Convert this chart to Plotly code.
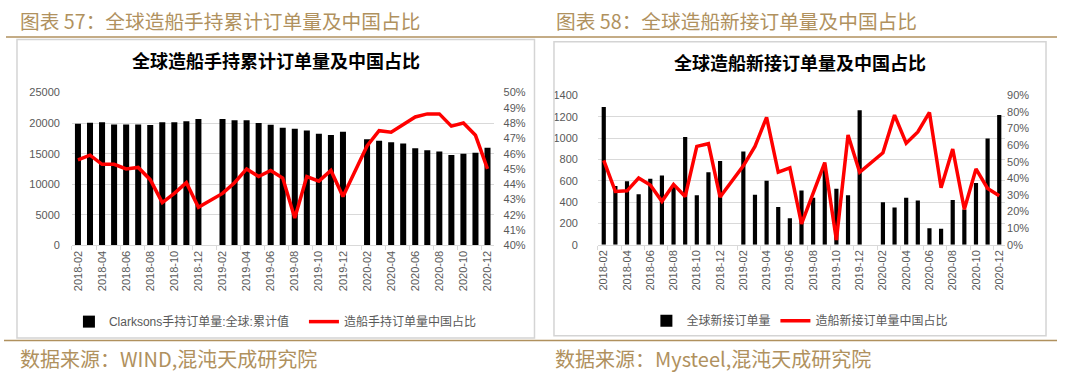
import plotly.graph_objects as go

W, H = 1065, 377

months = [
    "2018-02", "2018-03", "2018-04", "2018-05", "2018-06", "2018-07", "2018-08", "2018-09",
    "2018-10", "2018-11", "2018-12", "2019-01", "2019-02", "2019-03", "2019-04", "2019-05",
    "2019-06", "2019-07", "2019-08", "2019-09", "2019-10", "2019-11", "2019-12", "2020-01",
    "2020-02", "2020-03", "2020-04", "2020-05", "2020-06", "2020-07", "2020-08", "2020-09",
    "2020-10", "2020-11", "2020-12",
]

# Chart 57: global orderbook (cumulative) and China share
orderbook_global = [
    19900, 20030, 20140, 19780, 19780, 19780, 19700, 20140, 20140, 20300, 20670,
    None,
    20670, 20460, 20460, 20000, 19720, 19240, 19080, 18770, 18240, 18030, 18560,
    None,
    17350, 17090, 16870, 16660, 15870, 15550, 15350, 14760, 14970, 15130, 15980,
]
orderbook_china_share = [
    45.6, 45.9, 45.3, 45.3, 45.0, 45.1, 44.3, 42.8, 43.4, 44.1, 42.5,
    None,
    43.4, 44.1, 45.0, 44.5, 44.9, 44.4, 41.8, 44.5, 44.2, 44.9, 43.2,
    None,
    46.5, 47.5, 47.4, 47.9, 48.4, 48.6, 48.6, 47.8, 48.0, 47.2, 45.0,
]

# Chart 58: global new orders and China share
new_orders_global = [
    1290, 550, 595, 475, 620, 650, 550, 1010, 465, 680, 785,
    None,
    875, 470, 600, 355, 250, 510, 440, 700, 525, 465, 1260,
    None,
    400, 350, 440, 415, 155, 150, 420, 330, 580, 995, 1215,
]
new_orders_china_share = [
    50.9, 32.1, 32.5, 40.2, 36.0, 26.2, 36.4, 29.1, 59.3, 60.9, 28.8,
    None,
    47.6, 59.3, 76.8, 43.7, 46.3, 12.6, 31.1, 49.5, 2.9, 66.1, 43.7,
    None,
    55.4, 78.1, 61.2, 68.0, 79.7, 34.4, 57.7, 21.4, 45.7, 34.0, 29.6,
]

def pct(vals):
    return [None if v is None else v / 100.0 for v in vals]

GRAY = "#595959"
GRID = "#d9d9d9"
BROWN = "#b0915e"
TICKFONT = dict(family="Liberation Sans, Noto Sans CJK SC", size=11, color=GRAY)
CJK = "Noto Sans CJK SC"

def px_x(x):
    return x / W

def px_y(y):
    return 1 - y / H

fig = go.Figure()

fig.add_trace(go.Bar(
    x=months, y=orderbook_global, name="Clarksons手持订单量:全球:累计值",
    marker=dict(color="#000000", line=dict(width=0)), width=0.5,
    xaxis="x", yaxis="y", legend="legend",
))
fig.add_trace(go.Scatter(
    x=months, y=pct(orderbook_china_share), name="造船手持订单量中国占比",
    mode="lines", line=dict(color="#ff0000", width=3.5), connectgaps=True,
    xaxis="x", yaxis="y2", legend="legend",
))
fig.add_trace(go.Bar(
    x=months, y=new_orders_global, name="全球新接订单量",
    marker=dict(color="#000000", line=dict(width=0)), width=0.36,
    xaxis="x2", yaxis="y3", legend="legend2",
))
fig.add_trace(go.Scatter(
    x=months, y=pct(new_orders_china_share), name="造船新接订单量中国占比",
    mode="lines", line=dict(color="#ff0000", width=3.5), connectgaps=True,
    xaxis="x2", yaxis="y4", legend="legend2",
))

xcommon = dict(
    type="category", categoryorder="array", categoryarray=months,
    range=[-0.5, len(months) - 0.5], tickmode="linear", tick0=0, dtick=2,
    tickangle=-90, tickson="boundaries", ticks="outside", ticklen=4,
    tickcolor=GRID, showline=True, linecolor=GRID, linewidth=1,
    showgrid=False, zeroline=False, tickfont=TICKFONT, fixedrange=True,
)
ycommon = dict(showline=False, zeroline=False, ticks="", tickfont=TICKFONT, fixedrange=True)

LEGFONT = dict(family="Liberation Sans, Noto Sans CJK SC", size=12, color=GRAY)

fig.update_layout(
    width=W, height=H, margin=dict(l=0, r=0, t=0, b=0),
    paper_bgcolor="white", plot_bgcolor="rgba(0,0,0,0)",
    showlegend=True, bargap=0.5,
    xaxis=dict(domain=[px_x(71), px_x(493)], anchor="y", **xcommon),
    yaxis=dict(domain=[px_y(247.3), px_y(89.3)], anchor="x", range=[0, 25000], dtick=5000,
               tickformat="d", showgrid=True, gridcolor=GRID, ticklabelstandoff=11, **ycommon),
    yaxis2=dict(overlaying="y", anchor="x", side="right", range=[0.40, 0.50], dtick=0.01,
                tickformat=".0%", showgrid=False, ticklabelstandoff=9, **ycommon),
    xaxis2=dict(domain=[px_x(597.5), px_x(1005)], anchor="y3", **xcommon),
    yaxis3=dict(domain=[px_y(246.7), px_y(92.3)], anchor="x2", range=[0, 1400], dtick=200,
                tickformat="d", showgrid=True, gridcolor=GRID, ticklabelstandoff=19, **ycommon),
    yaxis4=dict(overlaying="y3", anchor="x2", side="right", range=[0, 0.9], dtick=0.1,
                tickformat=".0%", showgrid=False, ticklabelstandoff=1, **ycommon),
    legend=dict(orientation="h", x=px_x(68), y=px_y(326), xanchor="left", yanchor="middle",
                font=LEGFONT, entrywidth=190, entrywidthmode="pixels",
                bgcolor="rgba(0,0,0,0)", itemwidth=30),
    legend2=dict(orientation="h", x=px_x(646), y=px_y(325), xanchor="left", yanchor="middle",
                 font=LEGFONT, bgcolor="rgba(0,0,0,0)", itemwidth=30),
)

shapes = [
    # brown separators
    dict(type="line", xref="paper", yref="paper", x0=px_x(5), x1=px_x(1057), y0=px_y(32), y1=px_y(32),
         line=dict(color=BROWN, width=1.5)),
    dict(type="line", xref="paper", yref="paper", x0=px_x(3), x1=px_x(1057), y0=px_y(345.5), y1=px_y(345.5),
         line=dict(color=BROWN, width=1.5)),
    # chart frames
    dict(type="rect", xref="paper", yref="paper", x0=px_x(16), x1=px_x(534), y0=px_y(343), y1=px_y(34.5),
         line=dict(color="#d4d4d4", width=1.5)),
    dict(type="rect", xref="paper", yref="paper", x0=px_x(553.5), x1=px_x(1046), y0=px_y(340.5), y1=px_y(36.8),
         line=dict(color="#d4d4d4", width=1.5)),
]
fig.update_layout(shapes=shapes)

annotations = [
    dict(text="图表 57：全球造船手持累计订单量及中国占比", x=px_x(17), y=px_y(15), xanchor="left", yanchor="middle",
         font=dict(family=CJK, size=19.7, color=BROWN)),
    dict(text="图表 58：全球造船新接订单量及中国占比", x=px_x(554), y=px_y(15), xanchor="left", yanchor="middle",
         font=dict(family=CJK, size=19.7, color=BROWN)),
    dict(text="<b>全球造船手持累计订单量及中国占比</b>", x=px_x(275), y=px_y(56), xanchor="center", yanchor="middle",
         font=dict(family=CJK, size=18, color="#000000")),
    dict(text="<b>全球造船新接订单量及中国占比</b>", x=px_x(800), y=px_y(58), xanchor="center", yanchor="middle",
         font=dict(family=CJK, size=18, color="#000000")),
    dict(text="数据来源：WIND,混沌天成研究院", x=px_x(17), y=px_y(364), xanchor="left", yanchor="middle",
         font=dict(family=CJK, size=20, color=BROWN)),
    dict(text="数据来源：Mysteel,混沌天成研究院", x=px_x(553), y=px_y(364), xanchor="left", yanchor="middle",
         font=dict(family=CJK, size=20, color=BROWN)),
]
for a in annotations:
    a.update(xref="paper", yref="paper", showarrow=False)
fig.update_layout(annotations=annotations)

fig.write_html(
    "out.html",
    config={"displayModeBar": False},
    post_script="document.body.style.margin='0px';document.body.style.overflow='hidden';",
)
